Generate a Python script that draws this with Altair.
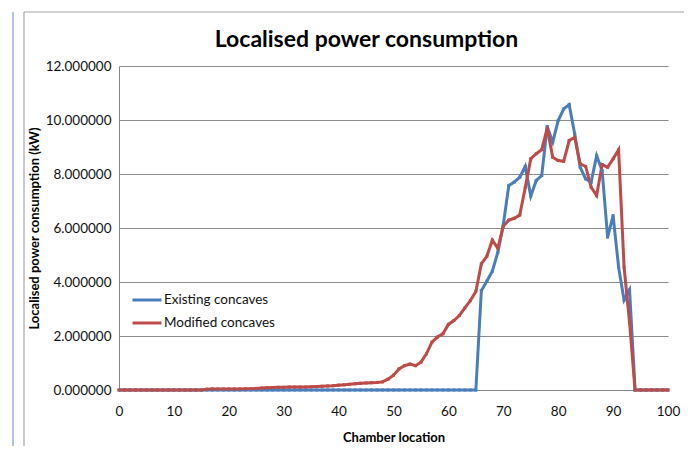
import altair as alt
import pandas as pd

chamber = list(range(101))

existing = [0.0] * 66 + [
    3.68, 4.03, 4.40, 5.10, 6.12, 7.57, 7.70, 7.88, 8.28, 7.18,
    7.76, 7.94, 9.76, 9.18, 9.98, 10.41, 10.57, 9.49, 8.25, 7.82,
    7.70, 8.68, 8.13, 5.66, 6.46, 4.55, 3.33, 3.71,
] + [0.0] * 7

modified = [0.0] * 16 + [
    0.03, 0.04, 0.04, 0.04, 0.04, 0.04, 0.04, 0.05, 0.05, 0.06,
    0.07, 0.08, 0.09, 0.10, 0.10, 0.11, 0.11, 0.11, 0.11, 0.12,
    0.13, 0.14, 0.15, 0.16, 0.18, 0.19, 0.21, 0.23, 0.25, 0.26,
    0.27, 0.28, 0.30, 0.40, 0.55, 0.78, 0.90, 0.96, 0.90, 1.03,
    1.34, 1.77, 1.96, 2.08, 2.43, 2.57, 2.76, 3.04, 3.31, 3.65,
    4.67, 4.95, 5.55, 5.25, 6.07, 6.29, 6.36, 6.48, 7.50, 8.56,
    8.75, 8.90, 9.70, 8.62, 8.50, 8.47, 9.24, 9.36, 8.38, 8.28,
    7.51, 7.20, 8.35, 8.25, 8.56, 8.90, 4.55, 2.50,
] + [0.0] * 7

series_names = ["Existing concaves", "Modified concaves"]
series_colors = ["#4A7EBB", "#BE4B48"]

rows = []
for name, vals in zip(series_names, [existing, modified]):
    for x, v in zip(chamber, vals):
        rows.append({"Chamber location": x, "Power": v, "Series": name})
df = pd.DataFrame(rows)

FONT = "Lato"

color = alt.Color(
    "Series:N",
    scale=alt.Scale(domain=series_names, range=series_colors),
    legend=alt.Legend(
        title=None,
        orient="none",
        legendX=12,
        legendY=218,
        symbolType="stroke",
        symbolSize=841,
        symbolStrokeWidth=3,
        labelFontSize=13.5,
        labelFont=FONT,
        labelColor="#111111",
        labelOffset=1,
        rowPadding=-5,
    ),
)

lines = alt.Chart(df).mark_line(
    strokeWidth=3,
    point=alt.OverlayMarkDef(filled=True, size=9, shape="square"),
).encode(
    x=alt.X(
        "Chamber location:Q",
        scale=alt.Scale(domain=[0, 100], nice=False),
        axis=alt.Axis(
            values=list(range(0, 101, 10)),
            grid=False,
            ticks=False,
            labelFlush=False,
            labelPadding=14,
            titlePadding=14,
        ),
    ),
    y=alt.Y(
        "Power:Q",
        scale=alt.Scale(domain=[0, 12], nice=False),
        axis=alt.Axis(
            values=list(range(0, 13, 2)),
            format=".6f",
            title="Localised power consumption (kW)",
            ticks=False,
            labelFlush=False,
            labelPadding=8,
            titlePadding=4,
            domain=True,
        ),
    ),
    color=color,
    order=alt.Order("Chamber location:Q"),
)

frame_df = pd.DataFrame({"k": [0]})
frame_left = alt.Chart(frame_df).mark_rule(color="#A6A6A6", strokeWidth=1.2).encode(
    x=alt.value(-95), y=alt.value(-54), y2=alt.value(400)
)
frame_top = alt.Chart(frame_df).mark_rule(color="#A6A6A6", strokeWidth=1.2).encode(
    x=alt.value(-95), x2=alt.value(590), y=alt.value(-54)
)
side_line = alt.Chart(frame_df).mark_rule(color="#5B8FD6", strokeWidth=1).encode(
    x=alt.value(-106), y=alt.value(-54), y2=alt.value(400)
)

chart = (
    alt.layer(frame_left, frame_top, side_line, lines)
    .properties(
        width=549,
        height=324,
        autosize=alt.AutoSizeParams(type="none"),
        padding={"left": 111, "top": 58, "right": 16, "bottom": 56},
        title=alt.TitleParams(
            "Localised power consumption",
            fontSize=23,
            font=FONT,
            fontWeight="bold",
            color="#000000",
            dx=-27,
            offset=-41,
        ),
    )
    .configure_view(stroke=None)
    .configure_axis(
        labelFont=FONT,
        labelFontSize=13.5,
        labelColor="#111111",
        titleFont=FONT,
        titleFontSize=13,
        titleFontWeight="bold",
        titleColor="#000000",
        domainColor="#868686",
        gridColor="#8C8C8C",
        gridWidth=1,
    )
)

chart.save("out.html", embed_options={"renderer": "svg", "actions": False})
